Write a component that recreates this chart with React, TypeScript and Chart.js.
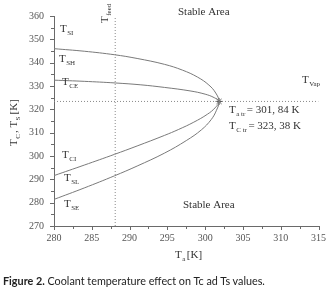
import React, { useEffect, useRef } from "react";
import { Chart, registerables } from "chart.js";

Chart.register(...registerables);

// Outer curve: T_SI branch (upper) -> turning point -> T_SL branch (lower)
const outerX = [280, 284, 288, 291, 294.6, 297, 299, 300.5, 301.4, 301.84, 301.5, 300.8, 299.5, 297.5, 294.6, 291, 288, 284, 280];
const outerY = [346, 344.9, 343.4, 341.8, 339.3, 336.8, 333.8, 330.4, 327, 323.38, 319.6, 315.6, 311.2, 306.6, 301.2, 295.7, 291.5, 286.3, 281.4];
// Inner curve: T_SH/T_CE branch (upper) -> turning point -> T_CI branch (lower)
const innerX = [280, 284, 288.1, 291.5, 294.6, 298, 300, 301.2, 301.84, 301.3, 300.3, 298.5, 296.5, 294.6, 291, 288, 284, 280];
const innerY = [332.5, 332, 331.3, 330.5, 329.4, 327.9, 326.5, 325, 323.38, 320.6, 317.9, 314.5, 311.4, 308.8, 304.3, 300.7, 296.1, 291.6];
// Reference lines
const feedX = [288.1, 288.1];
const feedY = [270, 360];
const vapX = [280, 315];
const vapY = [323.38, 323.38];
// Turning point
const trX = [301.84];
const trY = [323.38];

const xTickLabels = ["280", "285", "290", "295", "300", "305", "310", "315"];
const yTickLabels = ["270", "280", "290", "300", "310", "320", "330", "340", "350", "360"];

const toPts = (xs: number[], ys: number[]) => xs.map((x, i) => ({ x, y: ys[i] }));

const SERIF = "'Liberation Serif', 'DejaVu Serif', serif";
const GRAY = "#6a6a6a";
const TXT = "#333";

function subText(
  ctx: CanvasRenderingContext2D,
  x: number,
  y: number,
  main: string,
  sub: string,
  rest = "",
  size = 11
) {
  ctx.font = `${size}px ${SERIF}`;
  ctx.fillText(main, x, y);
  const w = ctx.measureText(main).width;
  ctx.font = `${Math.round(size * 0.62)}px ${SERIF}`;
  ctx.fillText(sub, x + w + 0.5, y + 3);
  const w2 = ctx.measureText(sub).width;
  if (rest) {
    ctx.font = `${size}px ${SERIF}`;
    ctx.fillText(rest, x + w + w2 + 2, y);
  }
}

const decorPlugin = {
  id: "decor",
  afterDraw(chart: any) {
    const ctx: CanvasRenderingContext2D = chart.ctx;
    const xs = chart.scales.x;
    const ys = chart.scales.y;
    ctx.save();
    // tick marks
    ctx.strokeStyle = GRAY;
    ctx.lineWidth = 1;
    for (let v = 270; v <= 360; v += 5) {
      const py = Math.round(ys.getPixelForValue(v)) + 0.5;
      const len = v % 10 === 0 ? 4 : 3;
      ctx.beginPath();
      ctx.moveTo(xs.left - len, py);
      ctx.lineTo(xs.left, py);
      ctx.stroke();
    }
    for (let v = 280; v <= 315; v += 2.5) {
      const px = Math.round(xs.getPixelForValue(v)) + 0.5;
      const len = v % 5 === 0 ? 4 : 3;
      ctx.beginPath();
      ctx.moveTo(px, ys.bottom);
      ctx.lineTo(px, ys.bottom + len);
      ctx.stroke();
    }

    ctx.fillStyle = TXT;
    ctx.textBaseline = "alphabetic";
    ctx.textAlign = "left";
    // curve labels
    subText(ctx, 60, 32, "T", "SI");
    subText(ctx, 59, 62, "T", "SH");
    subText(ctx, 62, 85, "T", "CE");
    subText(ctx, 62, 158, "T", "CI");
    subText(ctx, 64, 181, "T", "SL");
    subText(ctx, 64, 207, "T", "SE");
    subText(ctx, 302, 83, "T", "Vap");
    subText(ctx, 229, 113, "T", "a tr", "= 301, 84 K");
    subText(ctx, 229, 129, "T", "C tr", "= 323, 38 K");

    ctx.font = `11px ${SERIF}`;
    ctx.fillText("Stable Area", 178, 15);
    ctx.fillText("Stable Area", 183, 208);

    // x axis title
    subText(ctx, 175, 258, "T", "a", "[K]");

    // T_feed rotated
    ctx.save();
    ctx.translate(108, 23);
    ctx.rotate(-Math.PI / 2);
    subText(ctx, 0, 0, "T", "feed", "", 11);
    ctx.restore();

    // y axis title rotated
    ctx.save();
    ctx.translate(17, 146);
    ctx.rotate(-Math.PI / 2);
    ctx.font = `11px ${SERIF}`;
    let cx = 0;
    ctx.fillText("T", cx, 0);
    cx += ctx.measureText("T").width + 0.5;
    ctx.font = `7px ${SERIF}`;
    ctx.fillText("C", cx, 3);
    cx += ctx.measureText("C").width + 1;
    ctx.font = `11px ${SERIF}`;
    ctx.fillText(", T", cx, 0);
    cx += ctx.measureText(", T").width + 0.5;
    ctx.font = `7px ${SERIF}`;
    ctx.fillText("S", cx, 3);
    cx += ctx.measureText("S").width + 2;
    ctx.font = `11px ${SERIF}`;
    ctx.fillText("[K]", cx, 0);
    ctx.restore();

    ctx.restore();
  },
};

export default function App() {
  const ref = useRef<HTMLCanvasElement | null>(null);

  useEffect(() => {
    document.body.style.margin = "0";
    const canvas = ref.current;
    if (!canvas) return;
    const chart = new Chart(canvas, {
      type: "scatter",
      data: {
        datasets: [
          {
            label: "outer",
            data: toPts(outerX, outerY),
            showLine: true,
            borderColor: "#7a7a7a",
            borderWidth: 1,
            pointRadius: 0,
            tension: 0.4,
          },
          {
            label: "inner",
            data: toPts(innerX, innerY),
            showLine: true,
            borderColor: "#7a7a7a",
            borderWidth: 1,
            pointRadius: 0,
            tension: 0.4,
          },
          {
            label: "feed",
            data: toPts(feedX, feedY),
            showLine: true,
            borderColor: "#8a8a8a",
            borderWidth: 1,
            borderDash: [1, 2],
            pointRadius: 0,
          },
          {
            label: "vap",
            data: toPts(vapX, vapY),
            showLine: true,
            borderColor: "#8a8a8a",
            borderWidth: 1,
            borderDash: [1, 2],
            pointRadius: 0,
          },
          {
            label: "tr",
            data: toPts(trX, trY),
            showLine: false,
            pointStyle: "star",
            pointRadius: 3.5,
            borderColor: "#555",
            borderWidth: 1,
          },
        ],
      },
      options: {
        animation: false,
        responsive: false,
        maintainAspectRatio: false,
        layout: { padding: { left: 0, top: 14, right: 11, bottom: 0 } },
        plugins: { legend: { display: false }, tooltip: { enabled: false } },
        scales: {
          x: {
            type: "linear",
            min: 280,
            max: 315,
            afterFit: (s: any) => {
              s.height = 67;
            },
            afterBuildTicks: (s: any) => {
              s.ticks = xTickLabels.map((t) => ({ value: Number(t) }));
            },
            ticks: {
              autoSkip: false,
              maxRotation: 0,
              padding: 6,
              color: "#555",
              font: { family: SERIF, size: 10 },
              callback: (v: any) => String(v),
            },
            grid: { display: false, drawTicks: false, tickLength: 0 },
            border: { display: true, color: GRAY, width: 1 },
          },
          y: {
            type: "linear",
            min: 270,
            max: 360,
            afterFit: (s: any) => {
              s.width = 54;
            },
            afterBuildTicks: (s: any) => {
              s.ticks = yTickLabels.map((t) => ({ value: Number(t) }));
            },
            ticks: {
              autoSkip: false,
              padding: 10,
              color: "#555",
              font: { family: SERIF, size: 10 },
              callback: (v: any) => String(v),
            },
            grid: { display: false, drawTicks: false, tickLength: 0 },
            border: { display: true, color: GRAY, width: 1 },
          },
        },
      },
      plugins: [decorPlugin],
    });
    return () => chart.destroy();
  }, []);

  return (
    <div style={{ position: "relative", width: 332, height: 293, background: "#fff" }}>
      <canvas ref={ref} width={332} height={293} style={{ display: "block" }} />
      <div
        style={{
          position: "absolute",
          left: 3,
          top: 275,
          fontFamily: "Lato, 'Open Sans', sans-serif",
          fontSize: 10.8,
          lineHeight: "12px",
          color: "#222",
          whiteSpace: "nowrap",
        }}
      >
        <b>Figure 2.</b> Coolant temperature effect on Tc ad Ts values.
      </div>
    </div>
  );
}
